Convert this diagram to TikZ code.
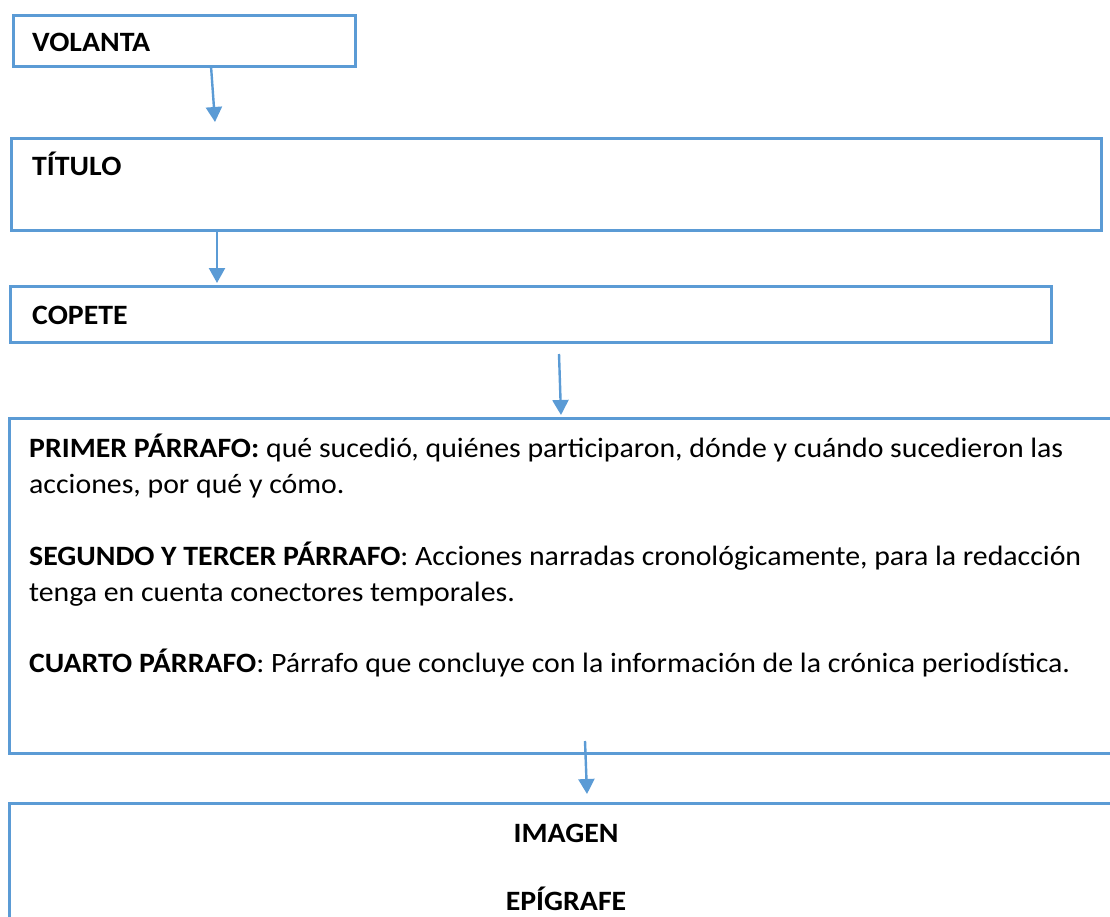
\documentclass[tikz,border=0pt]{standalone}
\usepackage{fontspec}
\setmainfont{Carlito}[FakeStretch=1.065]
\usetikzlibrary{arrows.meta}
\definecolor{boxblue}{RGB}{91,155,213}
\tikzset{
  boxnode/.style={draw=boxblue,line width=2.6pt,anchor=north west,inner sep=0pt,fill=none},
  txt/.style={anchor=base west,inner sep=0pt,font=\fontsize{28}{36}\selectfont},
  ctxt/.style={anchor=base,inner sep=0pt,font=\fontsize{28}{36}\selectfont\bfseries},
  arr/.style={draw=boxblue,line width=2.4pt,-{Triangle[width=16pt,length=15pt]}}
}
\begin{document}
\begin{tikzpicture}[x=1pt,y=-1pt]
\useasboundingbox (0,0) rectangle (1110,917);
\clip (0,0) rectangle (1110,917);
% boxes
\node[boxnode,minimum width=342pt,minimum height=51pt] (volanta) at (12,14) {};
\node[boxnode,minimum width=1090pt,minimum height=92pt] (titulo) at (10,137) {};
\node[boxnode,minimum width=1041pt,minimum height=56pt] (copete) at (9,285) {};
\node[boxnode,minimum width=1122pt,minimum height=335pt] (cuerpo) at (8,417) {};
\node[boxnode,minimum width=1122pt,minimum height=138pt] (imagen) at (8,802) {};
% texts
\node[txt] (tvol) at (32,52) {\textbf{VOLANTA}};
\node[txt] (ttit) at (32,176) {\textbf{TÍTULO}};
\node[txt] (tcop) at (32,324) {\textbf{COPETE}};
\node[txt] (p1a) at (29,457) {\textbf{PRIMER PÁRRAFO:} qué sucedió, quiénes participaron, dónde y cuándo sucedieron las};
\node[txt] (p1b) at (29,493) {acciones, por qué y cómo.};
\node[txt] (p2a) at (29,565) {\textbf{SEGUNDO Y TERCER PÁRRAFO}: Acciones narradas cronológicamente, para la redacción};
\node[txt] (p2b) at (29,601) {tenga en cuenta conectores temporales.};
\node[txt] (p3) at (29,672) {\textbf{CUARTO PÁRRAFO}: Párrafo que concluye con la información de la crónica periodística.};
\node[ctxt] (timg) at (566,842) {IMAGEN};
\node[ctxt] (tepi) at (566,910) {EPÍGRAFE};
% arrow ends
\coordinate (a1s) at (211,66);
\coordinate (a1e) at (215,122);
\coordinate (a2s) at (217,230);
\coordinate (a2e) at (217,283);
\coordinate (a3s) at (559,354);
\coordinate (a3e) at (561,415);
\coordinate (a4s) at (585,741);
\coordinate (a4e) at (587,794);
\draw[arr] (a1s) -- (a1e);
\draw[arr] (a2s) -- (a2e);
\draw[arr] (a3s) -- (a3e);
\draw[arr] (a4s) -- (a4e);
\end{tikzpicture}
\end{document}
